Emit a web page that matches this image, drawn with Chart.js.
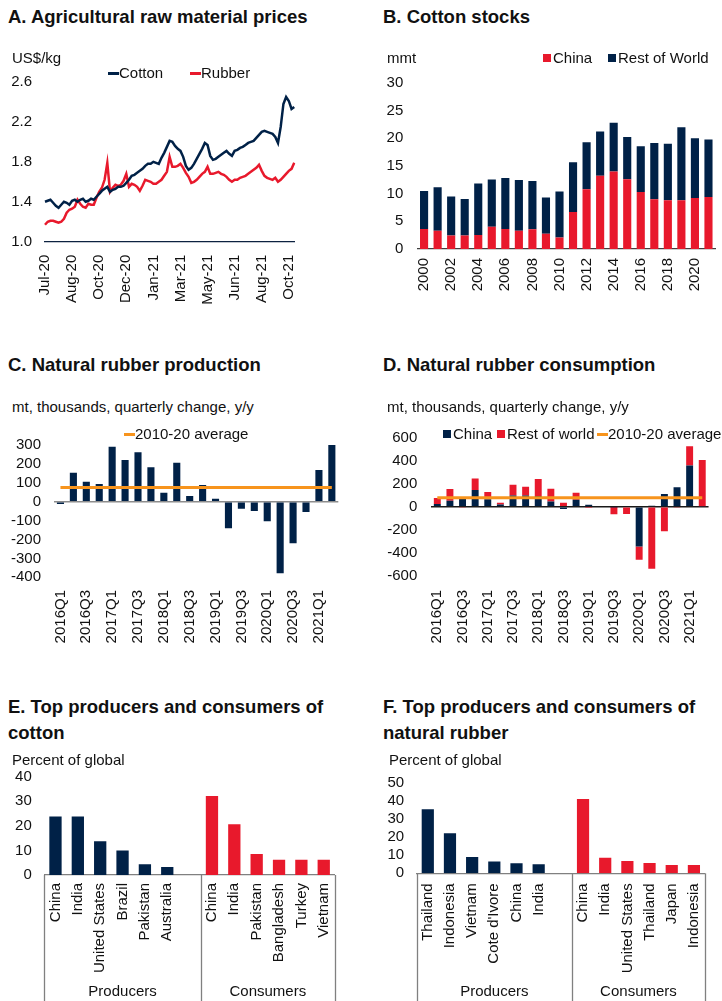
<!DOCTYPE html>
<html>
<head>
<meta charset="utf-8">
<title>Cotton and natural rubber</title>
<script src="https://cdn.jsdelivr.net/npm/chart.js@4.4.1/dist/chart.umd.min.js"></script>
<style>
  body { margin: 0; width: 722px; height: 1001px; position: relative; overflow: hidden; background: #fff;
         font-family: Arial, "Liberation Sans", Helvetica, sans-serif; color: #111; }
  canvas { position: absolute; }
  .title { position: absolute; font-weight: bold; font-size: 18.5px; line-height: 26px; white-space: nowrap; }
  .note { position: absolute; font-size: 15px; line-height: 18px; white-space: nowrap; }
  .key { position: absolute; font-size: 15px; line-height: 18px; white-space: nowrap; display: flex; align-items: center; }
  .sq { display: inline-block; width: 8px; height: 8px; margin-right: 2px; }
  .ln { display: inline-block; width: 11px; height: 3px; }
</style>
</head>
<body>
<canvas id="pricesChart" width="320" height="260" style="left:0;top:60px"></canvas>
<canvas id="stocksChart" width="362" height="260" style="left:360px;top:60px"></canvas>
<canvas id="prodChart" width="350" height="240" style="left:0;top:420px"></canvas>
<canvas id="consChart" width="362" height="245" style="left:360px;top:415px"></canvas>
<canvas id="cottonTopChart" width="350" height="246" style="left:0;top:755px"></canvas>
<canvas id="rubberTopChart" width="362" height="241" style="left:360px;top:760px"></canvas>

<div class="title" style="left:8px;top:4px">A. Agricultural raw material prices</div>
<div class="title" style="left:383px;top:4px">B. Cotton stocks</div>
<div class="title" style="left:8px;top:352px">C. Natural rubber production</div>
<div class="title" style="left:383px;top:352px">D. Natural rubber consumption</div>
<div class="title" style="left:8px;top:694px">E. Top producers and consumers of<br>cotton</div>
<div class="title" style="left:383px;top:694px">F. Top producers and consumers of<br>natural rubber</div>

<div class="note" style="left:12px;top:49px">US$/kg</div>
<div class="note" style="left:387px;top:49px">mmt</div>
<div class="note" style="left:12px;top:398px">mt, thousands, quarterly change, y/y</div>
<div class="note" style="left:387px;top:398px">mt, thousands, quarterly change, y/y</div>
<div class="note" style="left:12px;top:751px">Percent of global</div>
<div class="note" style="left:389px;top:751px">Percent of global</div>

<div class="key" style="left:108px;top:64px"><span class="ln" style="background:#002147"></span>Cotton</div>
<div class="key" style="left:190px;top:64px"><span class="ln" style="background:#E8192C"></span>Rubber</div>
<div class="key" style="left:543px;top:49px"><span class="sq" style="background:#E8192C"></span>China</div>
<div class="key" style="left:608px;top:49px"><span class="sq" style="background:#002147"></span>Rest of World</div>
<div class="key" style="left:124px;top:425px"><span class="ln" style="background:#F7941D"></span>2010-20 average</div>
<div class="key" style="left:443px;top:425px"><span class="sq" style="background:#002147"></span>China</div>
<div class="key" style="left:497px;top:425px"><span class="sq" style="background:#E8192C"></span>Rest of world</div>
<div class="key" style="left:597px;top:425px"><span class="ln" style="background:#F7941D"></span>2010-20 average</div>

<script>
// A. prices, US$/kg, sampled every few trading days from Jul-20
const priceTicks = ['Jul-20', 'Aug-20', 'Oct-20', 'Dec-20', 'Jan-21', 'Mar-21', 'May-21', 'Jun-21', 'Aug-21', 'Oct-21'];
const cottonPrice = [
  1.40, 1.41, 1.42, 1.39, 1.36, 1.34, 1.37, 1.40, 1.39, 1.37,
  1.41, 1.42, 1.40, 1.42, 1.43, 1.40, 1.41, 1.43, 1.42, 1.45,
  1.48, 1.51, 1.53, 1.55, 1.50, 1.52, 1.53, 1.55, 1.55, 1.56,
  1.59, 1.62, 1.66, 1.67, 1.69, 1.71, 1.73, 1.76, 1.78, 1.78,
  1.80, 1.79, 1.78, 1.84, 1.89, 1.95, 2.01, 2.00, 1.96, 1.93,
  1.91, 1.85, 1.76, 1.72, 1.74, 1.78, 1.83, 1.88, 1.93, 1.99,
  1.97, 1.86, 1.82, 1.83, 1.85, 1.87, 1.89, 1.91, 1.88, 1.86,
  1.91, 1.92, 1.94, 1.95, 1.97, 1.99, 2.00, 2.01, 2.04, 2.07,
  2.10, 2.11, 2.10, 2.09, 2.08, 2.05, 1.99, 2.15, 2.38, 2.45,
  2.41, 2.33, 2.35
];
const rubberPrice = [
  1.17, 1.20, 1.21, 1.21, 1.20, 1.19, 1.20, 1.23, 1.29, 1.32,
  1.33, 1.35, 1.42, 1.38, 1.35, 1.34, 1.38, 1.37, 1.37, 1.44,
  1.50, 1.54, 1.62, 1.79, 1.50, 1.54, 1.57, 1.56, 1.57, 1.61,
  1.68, 1.55, 1.58, 1.57, 1.55, 1.51, 1.56, 1.62, 1.61, 1.60,
  1.58, 1.58, 1.60, 1.62, 1.66, 1.70, 1.85, 1.75, 1.75, 1.76,
  1.78, 1.74, 1.69, 1.65, 1.59, 1.60, 1.62, 1.65, 1.68, 1.70,
  1.75, 1.68, 1.68, 1.69, 1.70, 1.68, 1.67, 1.65, 1.62, 1.60,
  1.62, 1.62, 1.64, 1.65, 1.66, 1.68, 1.70, 1.72, 1.74, 1.77,
  1.71, 1.66, 1.64, 1.63, 1.62, 1.64, 1.60, 1.62, 1.65, 1.68,
  1.71, 1.73, 1.79
];

// B. cotton stocks, mmt
const stockYears = ['2000', '2001', '2002', '2003', '2004', '2005', '2006', '2007', '2008', '2009', '2010',
  '2011', '2012', '2013', '2014', '2015', '2016', '2017', '2018', '2019', '2020', '2021'];
const stocksChina = [3.6, 3.3, 2.45, 2.45, 2.55, 4.0, 3.6, 3.3, 3.55, 2.75, 2.1, 6.7, 10.8, 13.25, 14.0, 12.6, 10.3, 9.0, 8.8, 8.8, 9.2, 9.4];
const stocksRest = [6.9, 7.85, 7.05, 6.6, 9.3, 8.55, 9.25, 9.15, 8.75, 6.55, 8.3, 9.0, 8.5, 8.0, 8.8, 7.65, 8.25, 10.15, 10.2, 13.2, 10.8, 10.4];

// C and D. natural rubber, y/y change, thousand mt
const quarters = ['2016Q1', '2016Q2', '2016Q3', '2016Q4', '2017Q1', '2017Q2', '2017Q3', '2017Q4', '2018Q1', '2018Q2', '2018Q3',
  '2018Q4', '2019Q1', '2019Q2', '2019Q3', '2019Q4', '2020Q1', '2020Q2', '2020Q3', '2020Q4', '2021Q1', '2021Q2'];
const prodChange = [-12, 153, 106, 94, 291, 220, 261, 182, 48, 206, 30, 88, 16, -141, -37, -49, -104, -379, -220, -55, 168, 300];
const prodAverage = 75;
const consChina = [23, 52, 68, 145, 64, 20, 98, 98, 92, 46, -20, 61, 17, -8, -2, 0, -347, 9, 110, 170, 358, 5];
const consRest = [52, 101, -5, 101, 63, 15, 93, 75, 148, 110, 35, 60, -3, 0, -64, -64, -115, -540, -214, -5, 168, 402];
const consAverage = 78;

// E and F. top producers / consumers, percent of global
const groupNames = ['Producers', 'Consumers'];
const cottonProducers = ['China', 'India', 'United States', 'Brazil', 'Pakistan', 'Australia'];
const cottonProdShare = [23.8, 23.8, 13.7, 10.0, 4.4, 3.2];
const cottonConsumers = ['China', 'India', 'Pakistan', 'Bangladesh', 'Turkey', 'Vietnam'];
const cottonConsShare = [32.1, 20.6, 8.5, 6.2, 6.2, 6.2];
const rubberProducers = ['Thailand', 'Indonesia', 'Vietnam', "Cote d'Ivore", 'China', 'India'];
const rubberProdShare = [35.6, 22.2, 9.1, 6.5, 5.6, 5.0];
const rubberConsumers = ['China', 'India', 'United States', 'Thailand', 'Japan', 'Indonesia'];
const rubberConsShare = [41.3, 8.7, 6.9, 5.7, 4.6, 4.6];

const NAVY = '#002147';
const RED = '#E8192C';
const ORANGE = '#F7941D';

Chart.defaults.font.family = 'Arial, "Liberation Sans", Helvetica, sans-serif';
Chart.defaults.font.size = 15;
Chart.defaults.color = '#111';
Chart.defaults.animation = false;
Chart.defaults.plugins.legend.display = false;
Chart.defaults.plugins.tooltip.enabled = false;

// y axis with a fixed width so the plot lines up across panels
function valueAxis(min, max, step, width, pad, zeroColor, extra) {
  return Object.assign({
    min: min,
    max: max,
    ticks: { stepSize: step, padding: pad, autoSkip: false },
    grid: {
      display: !!zeroColor,
      drawTicks: false,
      lineWidth: 1.5,
      color: c => (c.tick && c.tick.value === 0 ? zeroColor : 'rgba(0,0,0,0)')
    },
    border: { display: false },
    afterFit: s => { s.width = width; }
  }, extra || {});
}

// category axis, labels turned upright; "every" thins them out
function categoryAxis(height, pad, every, borderColor, extra) {
  return Object.assign({
    grid: { display: false, drawTicks: false },
    border: borderColor ? { display: true, color: borderColor, width: 1.3 } : { display: false },
    ticks: {
      autoSkip: false,
      minRotation: 90,
      maxRotation: 90,
      padding: pad,
      callback: function (v, i) { return i % every === 0 ? this.getLabelForValue(v) : null; }
    },
    afterFit: s => { s.height = height; }
  }, extra || {});
}

// A
new Chart(document.getElementById('pricesChart'), {
  type: 'line',
  data: {
    labels: cottonPrice.map((_, i) => i),
    datasets: [
      { label: 'Cotton', data: cottonPrice, borderColor: NAVY, borderWidth: 2.5, pointRadius: 0, tension: 0 },
      { label: 'Rubber', data: rubberPrice, borderColor: RED, borderWidth: 2.5, pointRadius: 0, tension: 0 }
    ]
  },
  options: {
    responsive: false,
    layout: { padding: { top: 22, right: 8, left: 0, bottom: 0 } },
    scales: {
      x: Object.assign(categoryAxis(78.3, 13, 1, '#0d2240'), {
        offset: false,
        ticks: {
          autoSkip: false, minRotation: 90, maxRotation: 90, padding: 13,
          callback: (v, i) => (i % 10 === 0 ? priceTicks[i / 10] : null)
        }
      }),
      y: valueAxis(1.0, 2.6, 0.4, 45, 13, null, {
        ticks: { stepSize: 0.4, padding: 13, autoSkip: false, callback: v => v.toFixed(1) }
      })
    }
  }
});

// B
new Chart(document.getElementById('stocksChart'), {
  type: 'bar',
  data: {
    labels: stockYears,
    datasets: [
      { label: 'China', data: stocksChina, backgroundColor: RED, stack: 's' },
      { label: 'Rest of World', data: stocksRest, backgroundColor: NAVY, stack: 's' }
    ]
  },
  options: {
    responsive: false,
    barPercentage: 0.6,
    categoryPercentage: 1,
    layout: { padding: { top: 17.7, right: 1, left: 0, bottom: 0 } },
    scales: {
      x: categoryAxis(71, 9, 2, '#404040', { stacked: true }),
      y: valueAxis(0, 30, 5, 57.3, 14, null, { stacked: true })
    }
  }
});

// C
new Chart(document.getElementById('prodChart'), {
  type: 'bar',
  data: {
    labels: quarters,
    datasets: [
      { type: 'line', label: '2010-20 average', data: quarters.map(() => prodAverage), borderColor: ORANGE, borderWidth: 3, pointRadius: 0, order: 0 },
      { label: 'Production', data: prodChange, backgroundColor: NAVY, order: 1 }
    ]
  },
  options: {
    responsive: false,
    barPercentage: 0.55,
    categoryPercentage: 1,
    layout: { padding: { top: 25, right: 5.5, left: 0, bottom: 0 } },
    scales: {
      x: categoryAxis(82.7, 12.7, 2, null),
      y: valueAxis(-400, 300, 100, 54, 13, '#8c8c8c')
    }
  }
});

// D
new Chart(document.getElementById('consChart'), {
  type: 'bar',
  data: {
    labels: quarters,
    datasets: [
      { type: 'line', label: '2010-20 average', data: quarters.map(() => consAverage), borderColor: ORANGE, borderWidth: 3, pointRadius: 0, order: 0, stack: 'avg' },
      { label: 'China', data: consChina, backgroundColor: NAVY, order: 1, stack: 'c' },
      { label: 'Rest of world', data: consRest, backgroundColor: RED, order: 2, stack: 'c' }
    ]
  },
  options: {
    responsive: false,
    barPercentage: 0.55,
    categoryPercentage: 1,
    layout: { padding: { top: 22.3, right: 1, left: 0, bottom: 0 } },
    scales: {
      x: categoryAxis(84.3, 14.3, 2, null, { stacked: true }),
      y: valueAxis(-600, 600, 200, 71, 13.7, '#1a1a1a', { stacked: true })
    }
  }
});

// divider lines and group names under the E and F category axes
const groupDivider = {
  id: 'groupDivider',
  afterDraw(chart, args, opts) {
    const { ctx, chartArea } = chart;
    const x = chart.scales.x;
    const split = x.getPixelForValue(opts.split - 0.5);
    ctx.save();
    ctx.strokeStyle = '#808080';
    ctx.lineWidth = 1.3;
    [chartArea.left, split, chartArea.right].forEach(px => {
      ctx.beginPath();
      ctx.moveTo(Math.round(px) + 0.5, chartArea.bottom);
      ctx.lineTo(Math.round(px) + 0.5, chart.height);
      ctx.stroke();
    });
    ctx.fillStyle = '#111';
    ctx.font = '15px Arial, "Liberation Sans", sans-serif';
    ctx.textAlign = 'center';
    ctx.textBaseline = 'middle';
    const y = chart.height - 9;
    ctx.fillText(opts.names[0], (chartArea.left + split) / 2, y);
    ctx.fillText(opts.names[1], (split + chartArea.right) / 2, y);
    ctx.restore();
  }
};

function topChart(id, producers, prodShare, consumers, consShare, yMax, yWidth, xHeight, padTop, padRight, tickPad) {
  const labels = [...producers, '', ...consumers];
  const values = [...prodShare, null, ...consShare];
  const colors = [...producers.map(() => NAVY), 'rgba(0,0,0,0)', ...consumers.map(() => RED)];
  return new Chart(document.getElementById(id), {
    type: 'bar',
    data: { labels: labels, datasets: [{ data: values, backgroundColor: colors }] },
    options: {
      responsive: false,
      barPercentage: 0.55,
      categoryPercentage: 1,
      layout: { padding: { top: padTop, right: padRight, left: 0, bottom: 0 } },
      plugins: { groupDivider: { split: producers.length + 1, names: groupNames } },
      scales: {
        x: categoryAxis(xHeight, tickPad, 1, '#808080'),
        y: valueAxis(0, yMax, 10, yWidth, 12.5, null)
      }
    },
    plugins: [groupDivider]
  });
}

// E
topChart('cottonTopChart', cottonProducers, cottonProdShare, cottonConsumers, cottonConsShare, 40, 44.3, 126, 21, 6.7, 8);
// F
topChart('rubberTopChart', rubberProducers, rubberProdShare, rubberConsumers, rubberConsShare, 50, 56.7, 127.7, 23.3, 2.3, 10);
</script>
</body>
</html>
